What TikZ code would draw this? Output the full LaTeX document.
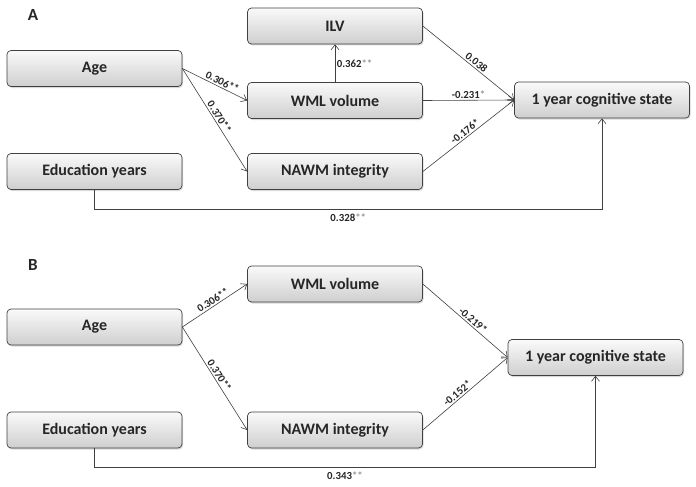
\documentclass[tikz,border=0pt]{standalone}
\usepackage{fontspec}
\setmainfont{Carlito}
\usepackage{xcolor}
\usetikzlibrary{arrows.meta,shadows}
\definecolor{linegray}{RGB}{64,64,64}
\definecolor{stargray}{RGB}{150,150,150}
% gray significance stars
\newcommand{\gstar}[1]{\textcolor{stargray}{#1}}

\begin{document}
\begin{tikzpicture}[x=1pt,y=-1pt,
	box/.style={draw=linegray,line width=.7pt,rounded corners=4pt,
		top color=gray!4,bottom color=gray!38,
		minimum width=175pt,minimum height=36pt,inner sep=0pt,
		text=black!85,font=\bfseries\fontsize{16}{18}\selectfont,
		drop shadow={shadow xshift=1pt,shadow yshift=-1.5pt,opacity=.3}},
	link/.style={draw=linegray,line width=.6pt,-{Straight Barb[length=5pt,width=8pt]}},
	lab/.style={inner sep=1.5pt,text=black!85,font=\bfseries\fontsize{10.8}{12}\selectfont},
	panel/.style={font=\bfseries\fontsize{17}{19}\selectfont,text=black!85}]
	\useasboundingbox (0,0) rectangle (696,487);
	%% panel A
	\node[panel] (pa) at (33,15) {A};
	\node[box] (ilv) at (335,26) {ILV};
	\node[box] (agea) at (94.5,68.5) {Age};
	\node[box] (wmla) at (335,100.5) {WML volume};
	\node[box] (nawma) at (335,171.5) {NAWM integrity};
	\node[box] (edua) at (94.5,171.5) {Education years};
	\node[box] (coga) at (602,100) {1 year cognitive state};
	%% paths of panel A
	\draw[link] (agea.east) -- node[lab,sloped,above,pos=.58] {0.306**} (wmla.west);
	\draw[link] (agea.east) -- node[lab,sloped,above,pos=.5] {0.370**} (nawma.west);
	\draw[link] (wmla.north) -- node[lab,right] {0.362\gstar{**}} (ilv.south);
	\draw[link] (ilv.east) -- node[lab,sloped,above,pos=.55] {0.038} (coga.west);
	\draw[link] (wmla.east) -- node[lab,above] {-0.231\gstar{*}} (coga.west);
	\draw[link] (nawma.east) -- node[lab,sloped,above,pos=.5] {-0.176*} (coga.west);
	\draw[link] (edua.south) -- ++(0,19) -| node[lab,below=3pt,pos=.25] {0.328\gstar{**}} (coga.south);
	%% panel B
	\node[panel] (pb) at (33,265) {B};
	\node[box] (wmlb) at (335,284) {WML volume};
	\node[box] (ageb) at (94.5,327) {Age};
	\node[box] (cogb) at (595.5,357.5) {1 year cognitive state};
	\node[box] (edub) at (94.5,430) {Education years};
	\node[box] (nawmb) at (335,430) {NAWM integrity};
	%% paths of panel B
	\draw[link] (ageb.east) -- node[lab,sloped,above,pos=.52] {0.306**} (wmlb.west);
	\draw[link] (ageb.east) -- node[lab,sloped,above,pos=.5] {0.370**} (nawmb.west);
	\draw[link] (wmlb.east) -- node[lab,sloped,above,pos=.55] {-0.219*} (cogb.west);
	\draw[link] (nawmb.east) -- node[lab,sloped,above,pos=.45] {-0.152*} (cogb.west);
	\draw[link] (edub.south) -- ++(0,19) -| node[lab,below=3pt,pos=.25] {0.343\gstar{**}} (cogb.south);
\end{tikzpicture}
\end{document}
